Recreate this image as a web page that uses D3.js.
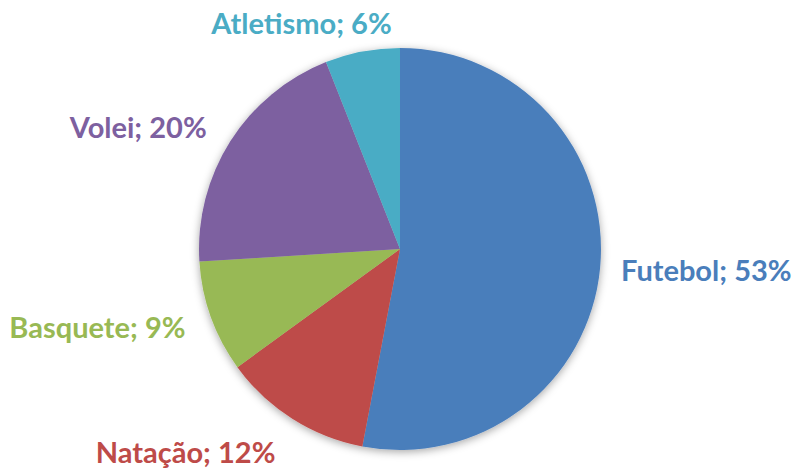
<!DOCTYPE html>
<html>
<head>
<meta charset="utf-8">
<script src="https://cdn.jsdelivr.net/npm/d3@7"></script>
<style>
  html, body { margin: 0; padding: 0; background: #ffffff; }
  svg { display: block; }
</style>
</head>
<body>
<svg id="chart" width="794" height="469"></svg>
<script>
// Sports preference shares (percent), clockwise from 12 o'clock
const categories = ["Futebol", "Natação", "Basquete", "Volei", "Atletismo"];
const shares = [53, 12, 9, 20, 6];
const sliceColors = ["#4a7ebb", "#be4b48", "#98b954", "#7d60a0", "#4aacc5"];

const width = 794, height = 469;
const cx = 400, cy = 249, radius = 201;

const svg = d3.select("#chart");

// soft shadow around the disc
const defs = svg.append("defs");
const f = defs.append("filter").attr("id", "pieShadow")
  .attr("x", "-20%").attr("y", "-20%").attr("width", "140%").attr("height", "140%");
f.append("feDropShadow").attr("dx", 0).attr("dy", 2).attr("stdDeviation", 4)
  .attr("flood-color", "#000").attr("flood-opacity", 0.35);

const data = categories.map((c, i) => ({ name: c, value: shares[i], color: sliceColors[i] }));

const pie = d3.pie().value(d => d.value).sort(null);
const arcs = pie(data);
const arc = d3.arc().innerRadius(0).outerRadius(radius);

const g = svg.append("g").attr("transform", `translate(${cx},${cy})`);

g.append("g").attr("filter", "url(#pieShadow)")
  .selectAll("path").data(arcs).join("path")
  .attr("d", arc)
  .attr("fill", d => d.data.color);

// label placement: radius from centre and a small nudge per slice
const labelRadius = [222, 240, 228, 229, 231];
const labelNudge = [[0, 0], [4, 0], [0, 0], [0, 0], [35, 0]];

const fmt = d => `${d.data.name}; ${d.data.value}%`;

g.selectAll("text.lbl").data(arcs).join("text")
  .attr("class", "lbl")
  .each(function (d, i) {
    const a = (d.startAngle + d.endAngle) / 2;
    const r = labelRadius[i];
    const x = Math.sin(a) * r + labelNudge[i][0];
    const y = -Math.cos(a) * r + labelNudge[i][1];
    d3.select(this)
      .attr("x", x).attr("y", y)
      .attr("text-anchor", Math.sin(a) > 0 ? "start" : "end");
  })
  .attr("dominant-baseline", "central")
  .attr("font-family", "Lato, 'Open Sans', sans-serif")
  .attr("font-weight", "bold")
  .attr("font-size", 29)
  .attr("fill", d => d.data.color)
  .text(fmt);
</script>
</body>
</html>
